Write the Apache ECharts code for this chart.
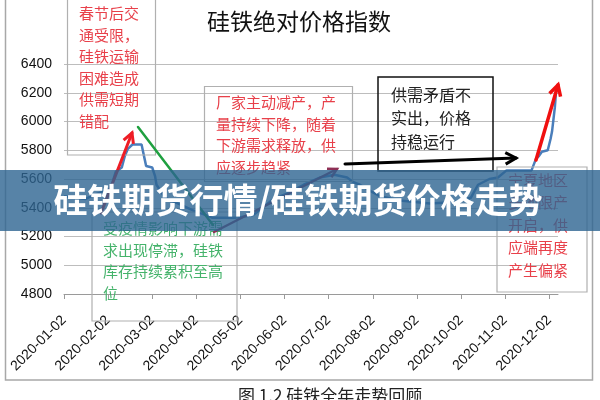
<!DOCTYPE html>
<html><head><meta charset="utf-8">
<script src="https://cdn.jsdelivr.net/npm/echarts@6/dist/echarts.min.js"></script>
<style>html,body{margin:0;padding:0;background:#fff}#c{width:600px;height:400px}</style>
</head><body><div id="c"></div>
<script>
// ---- data ----
const dates = ['2020-01-02','2020-01-10','2020-01-17','2020-01-23','2020-02-03','2020-02-05','2020-02-07','2020-02-11','2020-02-13','2020-02-15','2020-02-18','2020-02-24','2020-02-25','2020-02-26','2020-02-27','2020-03-02','2020-03-04','2020-03-05','2020-03-11','2020-03-20','2020-03-31','2020-04-08','2020-04-13','2020-04-30','2020-05-11','2020-05-15','2020-05-25','2020-06-04','2020-06-15','2020-06-26','2020-07-06','2020-07-15','2020-07-19','2020-07-24','2020-07-29','2020-08-07','2020-08-21','2020-09-11','2020-09-28','2020-10-09','2020-10-14','2020-10-22','2020-10-28','2020-11-03','2020-11-20','2020-11-23','2020-11-25','2020-11-27','2020-12-01','2020-12-02','2020-12-03','2020-12-04','2020-12-06','2020-12-07'];
const prices = [5480,5470,5460,5490,5530,5580,5650,5680,5760,5810,5840,5840,5790,5740,5690,5680,5620,5560,5470,5430,5380,5350,5330,5330,5350,5380,5460,5500,5560,5610,5630,5610,5580,5560,5530,5480,5450,5430,5440,5470,5560,5600,5610,5660,5660,5740,5760,5790,5800,5800,5880,5930,6100,6230];
const monthLabels = ['2020-01-02','2020-02-02','2020-03-02','2020-04-02','2020-05-02','2020-06-02','2020-07-02','2020-08-02','2020-09-02','2020-10-02','2020-11-02','2020-12-02'];
const chartTitle = '硅铁绝对价格指数';
const bannerText = '硅铁期货行情/硅铁期货价格走势';
const captionText = '图 1.2 硅铁全年走势回顾';
const note1 = ['春节后交','通受限，','硅铁运输','困难造成','供需短期','错配'];
const note2 = ['厂家主动减产，产','量持续下降，随着','下游需求释放，供','应逐步趋紧'];
const note3 = ['供需矛盾不','实出，价格','持稳运行'];
const note4 = ['受疫情影响下游需','求出现停滞，硅铁','库存持续累积至高','位'];
const note5 = ['宁夏地区','多地限产','开启，供','应端再度','产生偏紧'];

function monthPos(d){
  const p = d.split('-').map(Number);
  const dim = new Date(p[0], p[1], 0).getDate();
  return (p[1]-1) + (p[2]-2)/dim;
}

const CJK = '"Noto Sans CJK SC"';
function txt(x, y, lines, size, color, lh, extra){
  return Object.assign({type:'text', x:x, y:y, z:20, style:{text:lines.join('\n'), font: size+'px '+CJK, fill:color, lineHeight:lh}}, extra||{});
}
function box(x,y,w,h,color,lw){
  return {type:'rect', z:19, shape:{x:x,y:y,width:w,height:h}, style:{fill:'none', stroke:color, lineWidth:lw}};
}
function arrow(x1,y1,x2,y2,color,w,head){
  const els = [{type:'line', z:21, shape:{x1:x1,y1:y1,x2:x2,y2:y2}, style:{stroke:color,lineWidth:w,lineCap:'round'}}];
  if(head){
    const a = Math.atan2(y2-y1,x2-x1), s=head, sp=0.5;
    els.push({type:'polyline', z:21, shape:{points:[[x2-s*Math.cos(a-sp),y2-s*Math.sin(a-sp)],[x2,y2],[x2-s*Math.cos(a+sp),y2-s*Math.sin(a+sp)]]}, style:{stroke:color,lineWidth:w,fill:'none',lineJoin:'miter'}});
  }
  return els;
}

const chart = echarts.init(document.getElementById('c'));
const graphics = [].concat(
  [box(5.5,-5,587,385,'#a8a8a8',1.5)],
  [{type:'text', z:20, x:299, y:21, style:{text:chartTitle, font:'23px '+CJK, fill:'#111', align:'center', verticalAlign:'middle', textAlign:'center', textVerticalAlign:'middle'}}],
  [box(67.5,-2,88,157,'#b0b0b0',1.2), txt(79,3,note1,15,'#e8404a',21.5)],
  [box(204.5,86.5,148,95,'#b0b0b0',1.2), txt(216,92,note2,15,'#e8404a',21.5)],
  [box(378,77,115,94,'#111',1.5), txt(391,83,note3,16,'#222',23.5)],
  [box(92,212,145,109,'#b0b0b0',1.2), txt(103,218,note4,15,'#45b36b',21.5)],
  [box(497,167,90,125,'#b0b0b0',1.2), txt(508,169,note5,15,'#e8404a',22.5)],
  arrow(101,213,132,133,'#ee1c25',3,11),
  arrow(138,127,213,225,'#1fa040',2.5,0),
  arrow(214,232,337,169,'#8e2f55',2.5,10),
  arrow(345,164,516,158,'#000',3,12),
  arrow(536,160,558,85,'#f01010',3.5,12),
  [{type:'rect', z:50, shape:{x:0,y:170,width:600,height:61}, style:{fill:'rgba(45,100,145,0.8)'}}],
  [{type:'text', z:51, x:298, y:200, style:{text:bannerText, font:'bold 34px '+CJK, fill:'#fff', align:'center', verticalAlign:'middle', textAlign:'center', textVerticalAlign:'middle'}}],
  [{type:'text', z:20, x:238, y:387, style:{text:captionText, font:'17px '+CJK, fill:'#222'}}]
);

chart.setOption({
  animation:false,
  backgroundColor:'#fff',
  grid:{left:64, right:42, top:64, bottom:106, containLabel:false},
  xAxis:{type:'value', min:0, max:11.2, interval:1,
    axisLine:{show:true, lineStyle:{color:'#9a9a9a', width:1}},
    axisTick:{show:true, length:5, lineStyle:{color:'#9a9a9a'}},
    splitLine:{show:false},
    axisLabel:{rotate:45, margin:24, fontSize:14, color:'#111', fontFamily:'Liberation Sans', showMaxLabel:false,
      formatter:function(v){const r=Math.round(v); return Math.abs(v-r)<1e-6 && monthLabels[r] ? monthLabels[r] : '';}}
  },
  yAxis:{type:'value', min:4800, max:6400, interval:200,
    axisLine:{show:false}, axisTick:{show:false},
    splitLine:{lineStyle:{color:'#bdbdbd', width:1}},
    axisLabel:{fontSize:14, color:'#111', fontFamily:'Liberation Sans', margin:12, formatter:function(v){return String(v);}}
  },
  series:[{type:'line', showSymbol:false, data:dates.map(function(d,i){return [monthPos(d), prices[i]];}),
    lineStyle:{color:'#4a7ebb', width:2.5}, z:5}],
  graphic:graphics
});
</script>
</body></html>
